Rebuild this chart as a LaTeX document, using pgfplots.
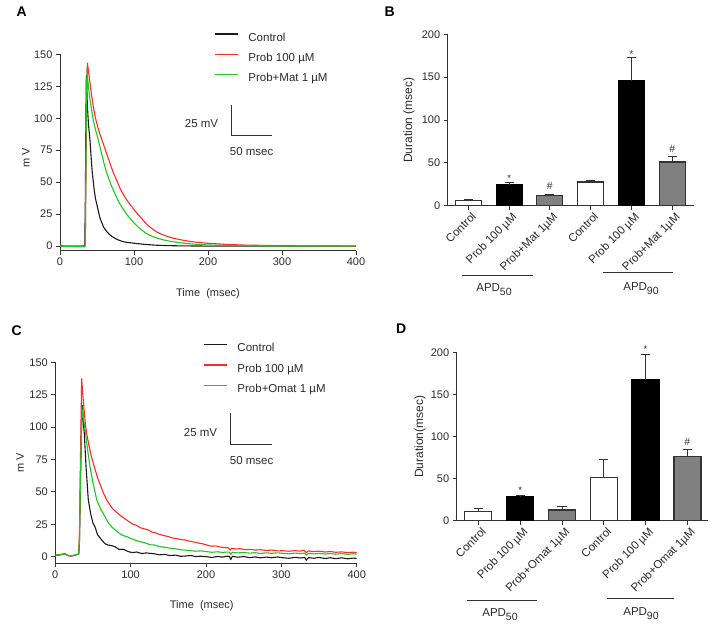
\documentclass[border=0pt]{standalone}
\usepackage{fontspec}
\setmainfont{Liberation Sans}
\usepackage{pgfplots}
\pgfplotsset{compat=1.18}
\definecolor{axgray}{HTML}{333333}
\definecolor{bargray}{HTML}{808080}
\definecolor{txtc}{HTML}{2B2B2B}
\definecolor{tred}{HTML}{FF2A2A}
\definecolor{tgreen}{HTML}{22C422}
\definecolor{tblack}{HTML}{1A1A1A}
\pgfplotsset{
 prism/.style={
  scale only axis, clip=false,
  axis x line*=bottom, axis y line*=left,
  axis line style={axgray, line width=0.9pt},
  tick align=outside, major tick length=4pt,
  tick style={axgray, line width=0.9pt},
  tick label style={font=\fontsize{11}{12}\selectfont, text=txtc},
  label style={font=\fontsize{11}{12}\selectfont, text=txtc},
  /pgf/number format/assume math mode=true,
 },
 trace/.style={prism, no markers,
  xmin=0, xmax=400, xtick={0,100,200,300,400},
  ytick={0,25,50,75,100,125,150}, ymax=150,
  xlabel={Time\ \ (msec)}, ylabel={m V},
  legend cell align=left,
  legend style={draw=none, fill=none, anchor=north west,
    font=\fontsize{11.5}{12}\selectfont, text=txtc,
    row sep=10.5pt, inner sep=0pt, nodes={inner sep=0pt},
    /tikz/every odd column/.append style={column sep=10pt}},
  legend image code/.code={\draw[##1, line width=1.3pt] (0pt,3.8pt) -- (23pt,3.8pt);},
 },
 bars/.style={prism, ybar, bar shift=0pt,
  ymin=0, ymax=200, ytick={0,50,100,150,200},
  xtick={0,1,2,3,4,5},
  xticklabel style={rotate=45, anchor=north east, inner sep=1pt, xshift=1.5pt, yshift=-2pt,
    font=\fontsize{11.5}{12}\selectfont},
  ylabel style={font=\fontsize{12}{12}\selectfont},
  ylabel={Duration (msec)},
  error bars/y dir=plus, error bars/y explicit,
  error bars/error bar style={axgray, line width=0.9pt},
  error bars/error mark options={rotate=90, mark size=4.6pt, line width=0.9pt, axgray},
 },
}
\newcommand{\sig}[1]{{\fontsize{9.5}{9}\selectfont #1}}
\newcommand{\hsh}{{\fontsize{10.5}{10}\selectfont\#}}
\newcommand{\apd}[1]{APD\raisebox{-3.8pt}{\fontsize{10.5}{10}\selectfont #1}}
\begin{document}
\begin{tikzpicture}
\useasboundingbox (0,0) rectangle (718pt,-626pt);

% ---------------- Panel A ----------------
\node[anchor=base west, inner sep=0pt, font=\fontsize{14}{14}\selectfont\bfseries] at (16.5pt,-16.8pt) {A};
\begin{axis}[trace, at={(60pt,-250.7pt)}, anchor=south west,
  width=296pt, height=196.4pt, ymin=-3.6,
  xlabel style={at={(axis description cs:0.5,-0.22)}, anchor=center},
  ylabel style={at={(axis description cs:-0.115,0.472)}, anchor=center},
  legend style={at={(axis description cs:0.52,1.11)}}]
\addplot[tblack, line width=1.1pt] coordinates {
(0,0) (10,0) (20,0) (30,0) (33.5,0.3) (34.3,40) (35,100) (35.6,133.8) (36.3,122) (37,110) (38.5,95) (40.5,83) (42,70) (43.7,57) (46,45) (48,37) (50.4,31) (54,22) (58.6,15.2) (61,13) (64,10.8) (67,9) (70,7.6) (74,6.2) (78,5) (82,4.1) (86,3.4) (90,3) (95,2.6) (104,2) (115,1.3) (130,0.7) (145,0.4) (160,0.2) (200,0) (300,0) (400,0)};
\addlegendentry{Control}
\addplot[tred, line width=1.1pt] coordinates {
(0,2) (1.5,0.5) (5,0) (20,0) (33,0) (34.2,0.5) (35,50) (36,110) (37,143.4) (38,139) (40,130) (42.5,119) (45,109) (48,100) (51,93) (54,87.5) (57,82.5) (60,77.5) (62,74) (65,69) (68,64) (72,57.5) (75,53.5) (78,49.5) (81,45.5) (84,42) (87,39) (90,36.3) (94,33) (97,31) (100,28.5) (104,25.8) (110,21.8) (115,18.5) (120,15.6) (125,13.3) (130,11.3) (137,9.3) (144,7.8) (152,6.3) (160,5.3) (168,4.4) (176,3.6) (188,2.8) (200,2.2) (225,1.3) (250,0.8) (300,0.3) (350,0.1) (400,0)};
\addlegendentry{Prob 100 µM}
\addplot[tgreen, line width=1.1pt] coordinates {
(0,-0.3) (20,-0.5) (33,-0.5) (34.2,0) (35,60) (35.8,120) (36.5,138) (37.5,130) (39,122) (40.5,115) (42,109) (45,98.5) (48,91) (51.8,83) (54,77.5) (57,70.5) (60,63.5) (63,57.5) (66,52.5) (70,46.5) (75,40) (79,35) (83,31) (87,27.5) (90,25) (95,21.3) (101,17.5) (106,14.7) (110,12.7) (115,10.6) (120,8.9) (126,7.3) (133,5.9) (140,4.8) (147,4) (153,3.4) (162,2.7) (170,2.1) (180,1.6) (190,1.2) (205,0.8) (220,0.5) (260,0.2) (300,0) (400,0)};
\addlegendentry{Prob+Mat 1 µM}
\draw[axgray, line width=0.9pt] (axis cs:232,110.1) -- (axis cs:232,86.7) -- (axis cs:286,86.7);
\node[anchor=east, inner sep=0pt, font=\fontsize{11.5}{12}\selectfont, text=txtc] at (axis cs:214,95.5) {25 mV};
\node[anchor=center, inner sep=0pt, font=\fontsize{11.5}{12}\selectfont, text=txtc] at (axis cs:259,73.8) {50 msec};
\end{axis}

% ---------------- Panel B ----------------
\node[anchor=base west, inner sep=0pt, font=\fontsize{14}{14}\selectfont\bfseries] at (384.5pt,-16.8pt) {B};
\begin{axis}[bars, at={(447.7pt,-205.7pt)}, anchor=south west,
  width=246.6pt, height=171.4pt, xmin=-0.505, xmax=5.54, bar width=26pt,
  xticklabels={Control, Prob 100 µM, Prob+Mat 1µM, Control, Prob 100 µM, Prob+Mat 1µM},
  ylabel style={at={(axis description cs:-0.157,0.5)}, anchor=center}]
\addplot[fill=white, draw=axgray, line width=1.2pt] coordinates {(0,6.2) +- (0,1.2) (3,27.6) +- (0,2.4)};
\addplot[fill=black, draw=black, line width=1.2pt] coordinates {(1,24.5) +- (0,3.1) (4,146) +- (0,26.8)};
\addplot[fill=bargray, draw=axgray, line width=1.2pt] coordinates {(2,11.7) +- (0,1.5) (5,51) +- (0,6.2)};
\node[anchor=base, inner sep=0pt, text=txtc, yshift=0.5pt] at (axis cs:1,27.6) {\sig{*}};
\node[anchor=base, inner sep=0pt, text=txtc, yshift=5pt] at (axis cs:2,13.2) {\hsh};
\node[anchor=base, inner sep=0pt, text=txtc, yshift=0.5pt] at (axis cs:4,172.8) {\sig{*}};
\node[anchor=base, inner sep=0pt, text=txtc, yshift=4pt] at (axis cs:5,57.2) {\hsh};
\end{axis}
\draw[axgray, line width=0.9pt] (461.7pt,-275pt) -- (533.3pt,-275pt);
\draw[axgray, line width=0.9pt] (603.3pt,-272.7pt) -- (673.3pt,-272.7pt);
\node[anchor=base, inner sep=0pt, font=\fontsize{11.5}{12}\selectfont, text=txtc] at (494pt,-291.7pt) {\apd{50}};
\node[anchor=base, inner sep=0pt, font=\fontsize{11.5}{12}\selectfont, text=txtc] at (641pt,-290.5pt) {\apd{90}};

% ---------------- Panel C ----------------
\node[anchor=base west, inner sep=0pt, font=\fontsize{14}{14}\selectfont\bfseries] at (11.5pt,-335pt) {C};
\begin{axis}[trace, at={(55.3pt,-563.3pt)}, anchor=south west,
  width=301.4pt, height=201pt, ymin=-5.1,
  xlabel style={at={(axis description cs:0.486,-0.212)}, anchor=center},
  ylabel style={at={(axis description cs:-0.117,0.499)}, anchor=center},
  legend style={at={(axis description cs:0.49,1.094)}}]
\addplot[tblack, line width=1.1pt] coordinates {
(0,1) (5,1.3) (10,1.8) (13,2.2) (16,1) (20,0.5) (24,0.8) (28,1.5) (31,2) (32,10) (33.5,60) (35,105) (35.8,117) (37,105) (38.5,95) (40.8,69.4) (43.8,43.8) (47,33) (50,26) (52.7,23) (56,17) (61.6,12.9) (66,10) (70,9) (75,8.5) (79.2,7.7) (85,5.5) (90,5.8) (97,3.9) (102,3.2) (108,3.6) (115,2.4) (120,2.9) (126,2.6) (132,2.2) (138,1.4) (145,1.8) (152,0.9) (160,1.2) (166,0.3) (172,0.5) (180,0.9) (186,0.1) (193,0.4) (201,0) (208,-0.6) (215,0.2) (222,-0.3) (228,0.4) (231,0.2) (233,-2) (235,0.3) (242,-0.4) (250,0.1) (258,-0.7) (265,-0.2) (272,-0.9) (280,-0.3) (287,-0.8) (295,-0.2) (302,-0.8) (310,-1.2) (318,-0.5) (325,-1) (331,-0.6) (333,-2.6) (336,-0.7) (343,-1.2) (350,-0.6) (358,-1.4) (365,-0.8) (372,-1.5) (380,-0.9) (388,-1.6) (395,-1.1) (400,-1.3)};
\addlegendentry{Control}
\addplot[tred, line width=1.1pt] coordinates {
(0,1) (5,1.4) (10,1.9) (13,2.3) (16,1.1) (20,0.6) (24,0.9) (28,1.6) (31,2.1) (32,15) (33.5,80) (35,137.6) (36.5,125) (38,115) (40,102) (41.6,95) (45,85) (48,77) (51.8,69.4) (56,61) (60,55) (64,49) (68.2,43.8) (72,40.5) (76,37) (80,35) (84,33) (88.1,31) (93,29) (98,27) (103,25) (108,24.2) (113,22.3) (118,21.5) (123.4,20.6) (128,19) (133,18.4) (138,17.2) (144,16.3) (150,15.5) (156,14.4) (162,13.8) (167,13.2) (172,12.9) (178,12) (184,11.3) (190,10.5) (196,9.9) (201,9) (207,8.1) (213,8.4) (219,7.4) (225,7.1) (230,6.8) (232,5.2) (234,6.4) (240,5.9) (246,6.2) (252,5.4) (258,5.7) (265,5.1) (272,5.4) (280,4.8) (287,5.1) (295,4.5) (302,4.6) (310,4.2) (318,4.7) (325,4.3) (330,5) (333,3.2) (336,4.5) (343,3.9) (350,4.3) (358,3.6) (365,4) (372,3.4) (380,3.7) (388,3.2) (395,3.5) (400,3.1)};
\addlegendentry{Prob 100 µM}
\addplot[tgreen, line width=1.1pt] coordinates {
(0,1.2) (5,1.5) (10,2) (13,2.4) (16,1.2) (20,0.7) (24,1) (28,1.7) (31,2.2) (32,12) (33.5,65) (35,105) (36.5,113) (38,104) (40.3,95) (43,82) (46,69.4) (50,57) (55,43.8) (60,37) (65,32) (70,26.5) (74.8,23) (80,20.5) (85,18) (90,16.3) (95,15.5) (100,14) (105.8,12.9) (110,12) (115,11.3) (120,10.5) (125.7,9.2) (132,9) (138,7.8) (145,7.3) (152,6.6) (160,6.1) (166,5.4) (172,5.1) (180,4.7) (186,4.2) (193,4.5) (201,3.9) (208,3.4) (215,3.8) (222,3.3) (228,3.6) (231,3.5) (233,1.8) (235,3.4) (242,2.9) (250,3.3) (258,2.7) (265,3.1) (272,2.5) (280,3) (287,2.6) (295,3) (302,2.6) (310,2.2) (318,2.8) (325,2.4) (331,2.8) (333,1.2) (336,2.6) (343,2.1) (350,2.6) (358,2) (365,2.5) (372,1.9) (380,2.4) (388,1.8) (395,2.3) (400,2)};
\addlegendentry{Prob+Omat 1 µM}
\draw[axgray, line width=0.9pt] (axis cs:232.8,110.6) -- (axis cs:232.8,86.4) -- (axis cs:287.2,86.4);
\node[anchor=east, inner sep=0pt, font=\fontsize{11.5}{12}\selectfont, text=txtc] at (axis cs:215,95.7) {25 mV};
\node[anchor=center, inner sep=0pt, font=\fontsize{11.5}{12}\selectfont, text=txtc] at (axis cs:260.6,74) {50 msec};
\end{axis}

% ---------------- Panel D ----------------
\node[anchor=base west, inner sep=0pt, font=\fontsize{14}{14}\selectfont\bfseries] at (396pt,-333.5pt) {D};
\begin{axis}[bars, at={(456.7pt,-520.7pt)}, anchor=south west,
  width=251.6pt, height=168pt, xmin=-0.517, xmax=5.50, bar width=27pt,
  xticklabels={Control, Prob 100 µM, Prob+Omat 1µM, Control, Prob 100 µM, Prob+Omat 1µM},
  ylabel={Duration(msec)},
  ylabel style={at={(axis description cs:-0.146,0.5)}, anchor=center}]
\addplot[fill=white, draw=axgray, line width=1.2pt] coordinates {(0,11.1) +- (0,4.0) (3,51.2) +- (0,21.4)};
\addplot[fill=black, draw=black, line width=1.2pt] coordinates {(1,28.2) +- (0,2.4) (4,167.9) +- (0,30.1)};
\addplot[fill=bargray, draw=axgray, line width=1.2pt] coordinates {(2,12.7) +- (0,4.4) (5,76.6) +- (0,7.9)};
\node[anchor=base, inner sep=0pt, text=txtc, yshift=2pt] at (axis cs:1,30.6) {\sig{*}};
\node[anchor=base, inner sep=0pt, text=txtc, yshift=1.5pt] at (axis cs:4,198) {\sig{*}};
\node[anchor=base, inner sep=0pt, text=txtc, yshift=4.5pt] at (axis cs:5,84.5) {\hsh};
\end{axis}
\draw[axgray, line width=0.9pt] (466.7pt,-600pt) -- (537.3pt,-600pt);
\draw[axgray, line width=0.9pt] (606.7pt,-598.3pt) -- (674pt,-598.3pt);
\node[anchor=base, inner sep=0pt, font=\fontsize{11.5}{12}\selectfont, text=txtc] at (500pt,-616.7pt) {\apd{50}};
\node[anchor=base, inner sep=0pt, font=\fontsize{11.5}{12}\selectfont, text=txtc] at (641pt,-615.5pt) {\apd{90}};
\end{tikzpicture}
\end{document}
